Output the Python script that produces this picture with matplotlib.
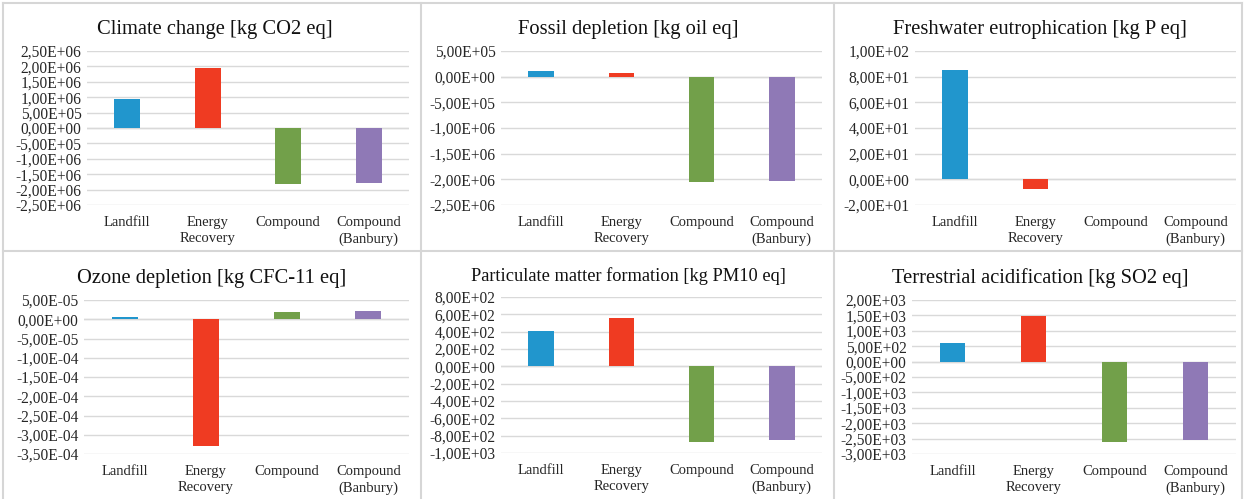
import matplotlib
matplotlib.use("Agg")
import matplotlib.pyplot as plt
from matplotlib.ticker import FuncFormatter, MultipleLocator
from matplotlib.lines import Line2D

categories = ["Landfill", "Energy\nRecovery", "Compound", "Compound\n(Banbury)"]
bar_colors = ["#2196cd", "#ef3b22", "#72a04a", "#8f79b6"]

titles = [
    "Climate change [kg CO2 eq]",
    "Fossil depletion [kg oil eq]",
    "Freshwater eutrophication [kg P eq]",
    "Ozone depletion [kg CFC-11 eq]",
    "Particulate matter formation [kg PM10 eq]",
    "Terrestrial acidification [kg SO2 eq]",
]
title_sizes = [14.8, 14.8, 14.8, 14.8, 13.2, 14.8]

climate_change = [9.3e5, 1.96e6, -1.83e6, -1.79e6]
fossil_depletion = [1.1e5, 8.0e4, -2.05e6, -2.03e6]
freshwater_eutrophication = [85.5, -7.8, 0.0, 0.0]
ozone_depletion = [7.0e-6, -3.3e-4, 2.0e-5, 2.2e-5]
particulate_matter = [413.0, 560.0, -869.0, -854.0]
terrestrial_acidification = [595.0, 1482.0, -2619.0, -2532.0]

series = [climate_change, fossil_depletion, freshwater_eutrophication,
          ozone_depletion, particulate_matter, terrestrial_acidification]

# axis range and major step per panel
y_ranges = [(-2.5e6, 2.5e6, 5e5), (-2.5e6, 5e5, 5e5), (-20, 100, 20),
            (-3.5e-4, 5e-5, 5e-5), (-1000, 800, 200), (-3000, 2000, 500)]

W, H = 1244, 499
fig = plt.figure(figsize=(W / 100, H / 100), dpi=100)
fig.patch.set_facecolor("white")

# plot-area boxes in pixels: left, top, right, bottom
boxes = [(87, 51, 409, 205), (501, 51, 822, 205), (915, 51, 1236, 205),
         (84, 300, 409, 454), (501, 297, 822, 453), (912, 300, 1236, 454)]
title_pos = [(215, 27), (628, 27), (1040, 27), (212, 276), (628, 274), (1040, 276)]

serif = ["Liberation Serif", "DejaVu Serif"]
text_col = "#262626"


def sci_comma(v, _pos):
    if abs(v) < 1e-20:
        v = 0.0
    return f"{v:.2E}".replace(".", ",")


for i in range(6):
    l, t, r, b = boxes[i]
    ax = fig.add_axes([l / W, 1 - b / H, (r - l) / W, (b - t) / H])
    ymin, ymax, step = y_ranges[i]
    x = range(len(categories))
    ax.bar(x, series[i], width=0.32, color=bar_colors, zorder=3)
    ax.set_xlim(-0.5, len(categories) - 0.5)
    ax.set_ylim(ymin, ymax)
    ax.yaxis.set_major_locator(MultipleLocator(step))
    ax.yaxis.set_major_formatter(FuncFormatter(sci_comma))
    ax.grid(axis="y", color="#d9d9d9", linewidth=1.0, zorder=0)
    ax.axhline(0, color="#d9d9d9", linewidth=1.0, zorder=1)
    for s in ax.spines.values():
        s.set_visible(False)
    ax.tick_params(axis="both", length=0)
    ax.tick_params(axis="y", pad=4, labelsize=11.2, labelcolor=text_col)
    ax.set_xticks(list(x))
    ax.set_xticklabels(categories, fontsize=10.5, color=text_col,
                       linespacing=1.3)
    ax.tick_params(axis="x", pad=8)
    for lab in ax.get_xticklabels() + ax.get_yticklabels():
        lab.set_family(serif)
    ax.set_facecolor("none")
    tx, ty = title_pos[i]
    fig.text(tx / W, 1 - ty / H, titles[i], ha="center", va="center_baseline",
             fontsize=title_sizes[i], family=serif, color="#111111")

# panel frames
frame_col = "#d6d6d6"
for xv in (3, 421, 834, 1242):
    fig.add_artist(Line2D([xv / W, xv / W], [0, 1 - 3 / H], color=frame_col,
                          linewidth=1.5, transform=fig.transFigure))
for yv in (3, 251):
    fig.add_artist(Line2D([3 / W, 1242 / W], [1 - yv / H, 1 - yv / H],
                          color=frame_col, linewidth=1.5,
                          transform=fig.transFigure))

fig.savefig("out.png", dpi=100, facecolor="white")
